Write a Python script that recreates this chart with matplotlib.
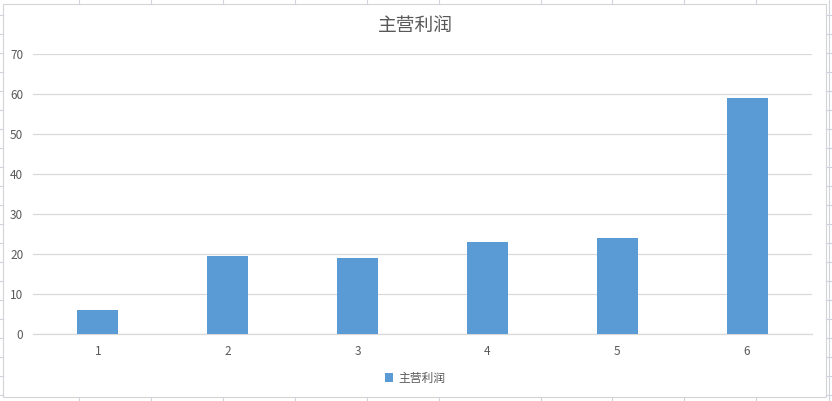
import matplotlib.pyplot as plt
from matplotlib.lines import Line2D
from matplotlib.patches import Rectangle

plt.rcParams['font.family'] = ['Noto Sans CJK SC', 'DejaVu Sans']

# data
categories = [1, 2, 3, 4, 5, 6]
profit = [6.0, 19.6, 19.0, 23.0, 24.0, 59.0]
series_name = '主营利润'
title = '主营利润'

W, H = 832, 401
fig = plt.figure(figsize=(W / 100, H / 100), dpi=100)
fig.patch.set_facecolor('white')

# spreadsheet cell lines peeking out around the chart
sheet = '#cfd3de'
for x in [79, 151, 223, 295, 367, 439, 541, 612, 684, 756]:
    fig.add_artist(Line2D([x / W, x / W], [1 - 4 / H, 1], color=sheet, lw=0.8))
    fig.add_artist(Line2D([x / W, x / W], [0, 4 / H], color=sheet, lw=0.8))
for y in range(15, 400, 19):
    fig.add_artist(Line2D([0, 3 / W], [1 - y / H, 1 - y / H], color=sheet, lw=0.8))
    fig.add_artist(Line2D([826 / W, 1], [1 - y / H, 1 - y / H], color=sheet, lw=0.8))
fig.add_artist(Line2D([828.5 / W, 828.5 / W], [0, 1], color=sheet, lw=0.8))
fig.add_artist(Rectangle((3 / W, 4 / H), 823 / W, 393 / H, fill=False,
                         edgecolor='#d4d4d4', lw=0.8))

ax = fig.add_axes([33 / W, 1 - 334 / H, 779 / W, 280 / H])
ax.bar(categories, profit, width=0.315, color='#5b9bd5', label=series_name, zorder=3)
ax.set_xlim(0.5, 6.5)
ax.set_ylim(0, 70)
ax.set_yticks(range(0, 71, 10))
ax.set_xticks(categories)
ax.grid(axis='y', color='#d9d9d9', lw=0.9, zorder=0)
for s in ['top', 'right', 'left']:
    ax.spines[s].set_visible(False)
ax.spines['bottom'].set_color('#d9d9d9')
ax.spines['bottom'].set_linewidth(0.9)
ax.tick_params(axis='both', length=0, colors='#595959', labelsize=8.5)
ax.tick_params(axis='y', pad=7)
ax.tick_params(axis='x', pad=8)

fig.text(415 / W, 1 - 25 / H, title, ha='center', va='center',
         fontsize=13.5, color='#595959')

fig.legend(loc='center', bbox_to_anchor=(415 / W, 1 - 378 / H), frameon=False,
           fontsize=8.5, labelcolor='#595959', handlelength=0.7, handleheight=0.7,
           handletextpad=0.4)

fig.savefig('out.png', dpi=100)
